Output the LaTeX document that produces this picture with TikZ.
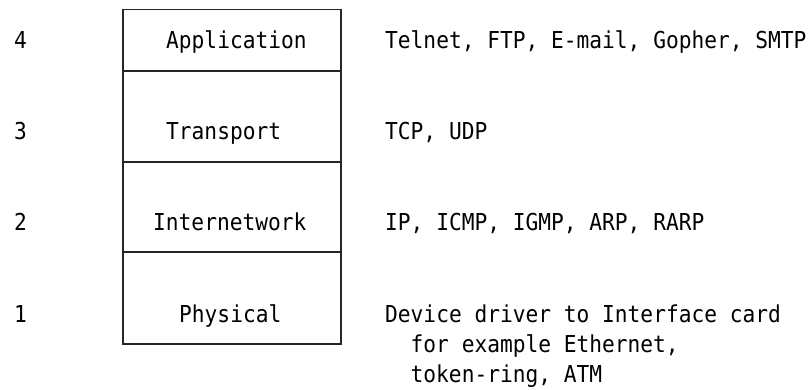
\documentclass[tikz,border=0pt]{standalone}
\usepackage{fontspec}
\newfontfamily\monofont[FakeStretch=0.91]{DejaVu Sans Mono}
\begin{document}
\begin{tikzpicture}[x=1pt,y=-1pt,
  txt/.style={anchor=base west,inner sep=0pt,font=\monofont\fontsize{23.3}{30.4}\selectfont,text=black},
  layer/.style={draw=black!85,line width=1.3pt,inner sep=0pt,minimum width=218pt}]
\useasboundingbox (0,0) rectangle (812,390);
% layer boxes
\node[layer,minimum height=61.5pt] (lapp) at (232,40.25) {};
\node[layer,minimum height=91pt] (ltrn) at (232,116.5) {};
\node[layer,minimum height=90pt] (lint) at (232,207) {};
\node[layer,minimum height=92pt] (lphy) at (232,298) {};
% numbers
\node[txt] (n4) at (14,48.5) {4};
\node[txt] (n3) at (14,139.7) {3};
\node[txt] (n2) at (14,230.9) {2};
\node[txt] (n1) at (14,322.1) {1};
% layer names
\node[txt] (tapp) at (166,48.5) {Application};
\node[txt] (ttrn) at (166,139.7) {Transport};
\node[txt] (tint) at (153,230.9) {Internetwork};
\node[txt] (tphy) at (179,322.1) {Physical};
% protocols
\node[txt] (papp) at (385,48.5) {Telnet, FTP, E-mail, Gopher, SMTP};
\node[txt] (ptrn) at (385,139.7) {TCP, UDP};
\node[txt] (pint) at (385,230.9) {IP, ICMP, IGMP, ARP, RARP};
\node[txt] (pphy1) at (385,322.1) {Device driver to Interface card};
\node[txt] (pphy2) at (410.5,352.5) {for example Ethernet,};
\node[txt] (pphy3) at (410.5,382.9) {token-ring, ATM};
\end{tikzpicture}
\end{document}
